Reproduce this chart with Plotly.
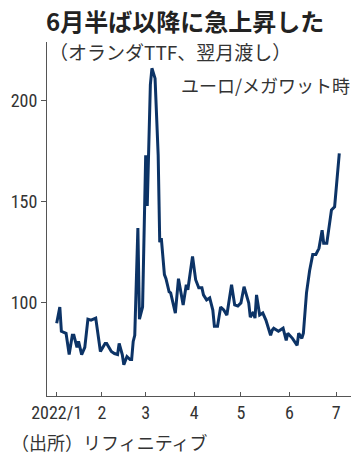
import plotly.graph_objects as go

dates = [
    "2022-01-03", "2022-01-05", "2022-01-06", "2022-01-09", "2022-01-11", "2022-01-13",
    "2022-01-14", "2022-01-16", "2022-01-17", "2022-01-19", "2022-01-21", "2022-01-23",
    "2022-01-25", "2022-01-28", "2022-01-31", "2022-02-03", "2022-02-04", "2022-02-07",
    "2022-02-09", "2022-02-11", "2022-02-12", "2022-02-14", "2022-02-15", "2022-02-17",
    "2022-02-19", "2022-02-20", "2022-02-21", "2022-02-22", "2022-02-24", "2022-02-25",
    "2022-02-27", "2022-03-01", "2022-03-02", "2022-03-03", "2022-03-04", "2022-03-05",
    "2022-03-07", "2022-03-09", "2022-03-10", "2022-03-11", "2022-03-13", "2022-03-14",
    "2022-03-16", "2022-03-17", "2022-03-20", "2022-03-22", "2022-03-25", "2022-03-27",
    "2022-03-28", "2022-03-31", "2022-04-02", "2022-04-04", "2022-04-06", "2022-04-07",
    "2022-04-09", "2022-04-11", "2022-04-13", "2022-04-14", "2022-04-16", "2022-04-18",
    "2022-04-20", "2022-04-22", "2022-04-25", "2022-04-27", "2022-04-29", "2022-05-01",
    "2022-05-03", "2022-05-06", "2022-05-07", "2022-05-09", "2022-05-10", "2022-05-11",
    "2022-05-13", "2022-05-15", "2022-05-17", "2022-05-20", "2022-05-21", "2022-05-22",
    "2022-05-25", "2022-05-28", "2022-05-30", "2022-05-31", "2022-06-03", "2022-06-06",
    "2022-06-07", "2022-06-09", "2022-06-10", "2022-06-12", "2022-06-14", "2022-06-16",
    "2022-06-18", "2022-06-20", "2022-06-22", "2022-06-23", "2022-06-25", "2022-06-28",
    "2022-06-30", "2022-07-03",
]
prices = [
    90, 98, 86, 85, 74.5, 84,
    84, 78, 81, 74.5, 78, 92,
    91.5, 92.5, 76, 80, 80, 76,
    75, 74.5, 80, 74.5, 69.5, 73.5,
    72, 72, 81, 84, 137, 92,
    98, 173, 148, 175, 208, 216,
    211, 173, 130, 132, 114, 112,
    105.5, 105, 95, 112, 99, 109,
    106.5, 123, 111.5, 107.5, 107.5, 104,
    101.5, 102.5, 96.5, 88.5, 88.5, 98,
    96.5, 94, 109, 99, 98.5, 100,
    108, 100, 93, 95.5, 92.5, 104,
    94, 95, 91.5, 84, 86.5, 87.5,
    86, 87.5, 81.5, 85, 82.5, 79,
    85, 82.5, 85, 105, 116, 124,
    124, 127, 136, 129.5, 129.5, 146,
    147.5, 174,
]

tick_vals = ["2022-01-03", "2022-02-01", "2022-03-01", "2022-04-01",
             "2022-05-01", "2022-06-01", "2022-07-01"]
tick_text = ["2022/1", "2", "3", "4", "5", "6", "7"]
y_ticks = [100, 150, 200]

title_text = "6月半ば以降に急上昇した"
subtitle_text = "（オランダTTF、翌月渡し）"
unit_text = "ユーロ/メガワット時"
source_text = "（出所）リフィニティブ"

JP = "Noto Sans CJK JP"
NUM = "Liberation Sans Narrow, Roboto Condensed, Noto Sans CJK JP"

fig = go.Figure()
fig.add_trace(go.Scatter(
    x=dates, y=prices, mode="lines",
    line=dict(color="#0c3366", width=3),
    hoverinfo="skip",
))

W, H = 362, 459
L, R, T, B = 43, 11, 42, 63
pw, ph = W - L - R, H - T - B

def px(x):
    return (x - L) / pw

def py(y):
    return (H - B - y) / ph

annots = [
    dict(text="<b>" + title_text + "</b>", x=px(40), y=py(20), xanchor="left", yanchor="middle",
         font=dict(family=JP, size=24, color="#222")),
    dict(text=subtitle_text, x=px(43), y=py(51), xanchor="left", yanchor="middle",
         font=dict(family=JP, size=19, color="#333")),
    dict(text=unit_text, x=px(177), y=py(85), xanchor="left", yanchor="middle",
         font=dict(family=JP, size=18, color="#333")),
    dict(text=source_text, x=px(5), y=py(442), xanchor="left", yanchor="middle",
         font=dict(family=JP, size=18, color="#333")),
]
for a in annots:
    a.update(xref="paper", yref="paper", showarrow=False)

fig.update_layout(
    width=W, height=H,
    margin=dict(l=L, r=R, t=T, b=B),
    paper_bgcolor="white", plot_bgcolor="white",
    showlegend=False,
    annotations=annots,
    xaxis=dict(
        type="date",
        range=["2021-12-27 19:00", "2022-07-10 12:00"],
        tickvals=tick_vals, ticktext=tick_text,
        showgrid=False, zeroline=False,
        showline=True, linecolor="#555", linewidth=1,
        ticks="inside", ticklen=4, tickcolor="#555",
        tickfont=dict(family=NUM, size=18, color="#333"),
    ),
    yaxis=dict(
        range=[54, 229],
        tickvals=y_ticks,
        showgrid=False, zeroline=False,
        showline=True, linecolor="#555", linewidth=1,
        ticks="outside", ticklen=5, tickcolor="#555",
        tickfont=dict(family=NUM, size=18, color="#333"),
    ),
)

fig.write_html("out.html", config={"displayModeBar": False},
               post_script="document.body.style.margin='0';")
